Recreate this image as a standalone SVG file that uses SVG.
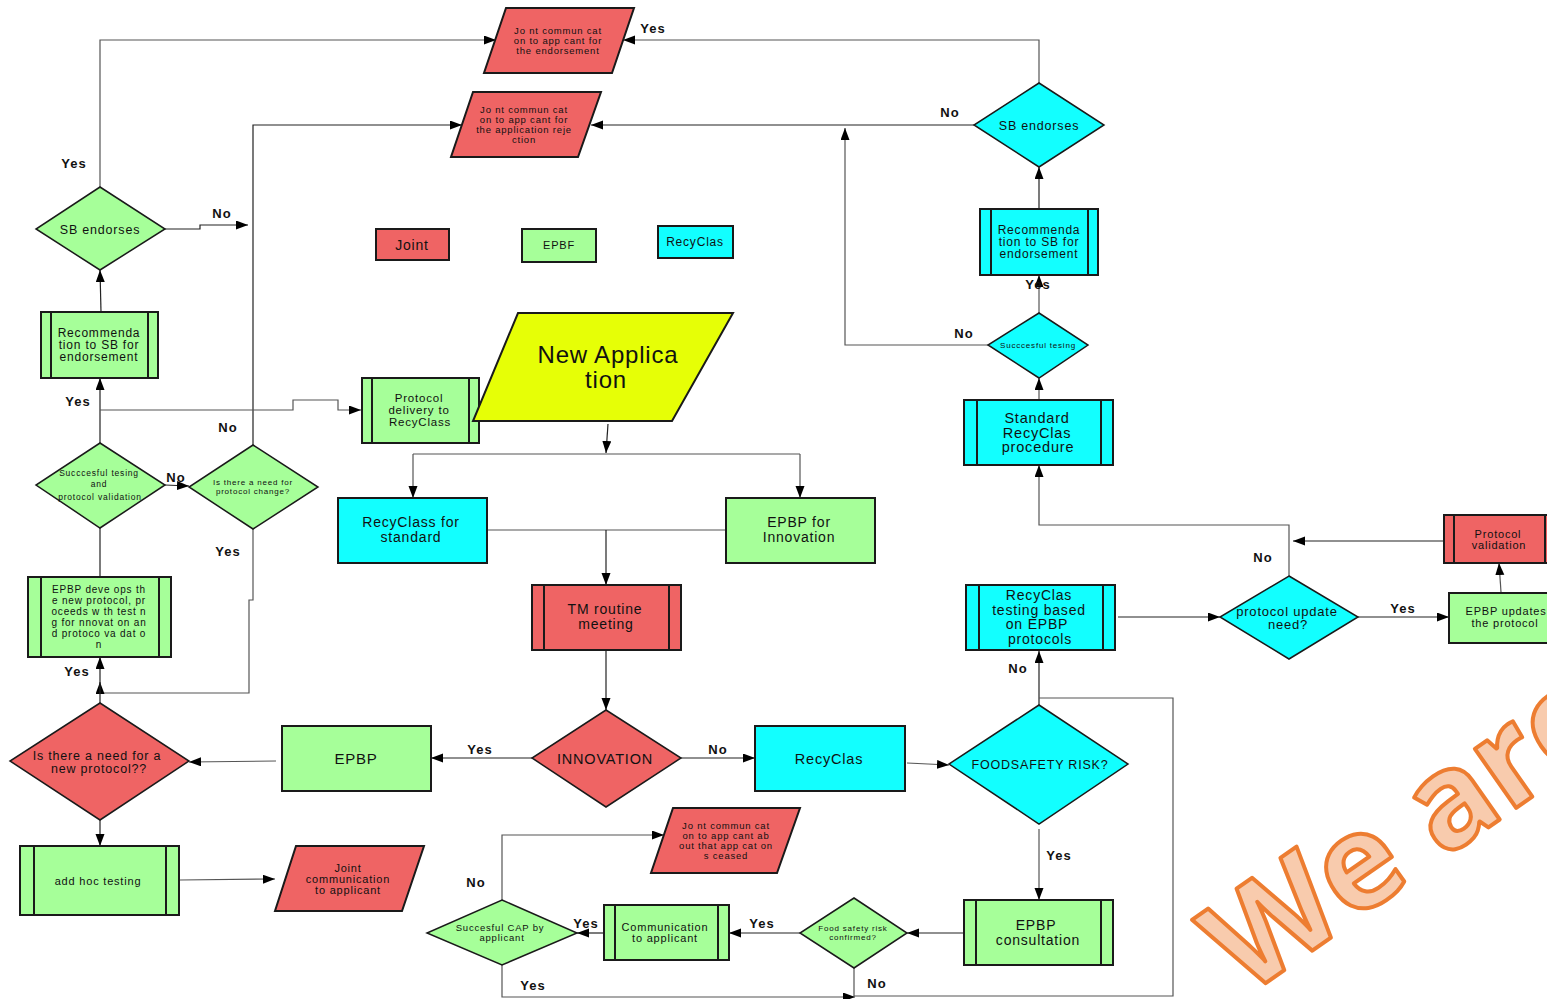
<svg xmlns="http://www.w3.org/2000/svg" width="1547" height="999" viewBox="0 0 1547 999">
<defs>
<style>
.red{fill:#EF6464;stroke:#1a1a1a;stroke-width:2}
.grn{fill:#A6FF99;stroke:#1a1a1a;stroke-width:2}
.cyn{fill:#12FFFF;stroke:#1a1a1a;stroke-width:2}
.yel{fill:#E6FF06;stroke:#1a1a1a;stroke-width:2}
.dia{stroke-width:1.5}
.in{stroke:#1a1a1a;stroke-width:2;fill:none}
.t{font-family:"Liberation Sans",Arial,sans-serif;fill:#111;text-anchor:middle;letter-spacing:0.8px}
.lbl{font-family:"Liberation Sans",Arial,sans-serif;font-weight:bold;font-size:13px;fill:#111;text-anchor:middle;letter-spacing:1px}
.c{fill:none;stroke:#222;stroke-width:1.2}
.cg{fill:none;stroke:#555;stroke-width:1.2}
</style>
<marker id="ar" markerUnits="userSpaceOnUse" markerWidth="13" markerHeight="10" refX="12" refY="4.5" orient="auto">
<path d="M0,0 L12,4.5 L0,9 z" fill="#000"/>
</marker>
</defs>
<rect width="1547" height="999" fill="#fff"/>

<g id="connectors">
<path class="cg" d="M100,187 V40 H496" marker-end="url(#ar)"/>
<path class="c" d="M165,229 H200 V225 H248" marker-end="url(#ar)"/>
<path class="c" d="M253,445 V125 H462" marker-end="url(#ar)"/>
<path class="c" d="M101,312 L100,270" marker-end="url(#ar)"/>
<path class="c" d="M100,443 V378" marker-end="url(#ar)"/>
<path class="cg" d="M100,410 H293 V400 H338 V410 H361" marker-end="url(#ar)"/>
<path class="c" d="M165,485 L189,486" marker-end="url(#ar)"/>
<path class="c" d="M100,528 V577"/>
<path class="cg" d="M253,529 V600 H249 V693 H100 V682" marker-end="url(#ar)"/>
<path class="c" d="M100,703 V657" marker-end="url(#ar)"/>
<path class="c" d="M100,820 V846" marker-end="url(#ar)"/>
<path class="cg" d="M180,880 L275,879" marker-end="url(#ar)"/>
<path class="cg" d="M276,761 L189,762" marker-end="url(#ar)"/>
<path class="c" d="M532,758 H431" marker-end="url(#ar)"/>
<path class="c" d="M681,758 H755" marker-end="url(#ar)"/>
<path class="cg" d="M907,763 L949,765" marker-end="url(#ar)"/>
<path class="cg" d="M1039,829 V900" marker-end="url(#ar)"/>
<path class="c" d="M1039,705 V651" marker-end="url(#ar)"/>
<path class="cg" d="M854,968 V996 H1173 V698 H1039"/>
<path class="cg" d="M502,965 V997 H855" marker-end="url(#ar)"/>
<path class="c" d="M964,933 H907" marker-end="url(#ar)"/>
<path class="c" d="M800,933 H729" marker-end="url(#ar)"/>
<path class="c" d="M604,933 H577" marker-end="url(#ar)"/>
<path class="cg" d="M502,900 V835 H664" marker-end="url(#ar)"/>
<path class="c" d="M1118,617 H1220" marker-end="url(#ar)"/>
<path class="c" d="M1358,617 H1449" marker-end="url(#ar)"/>
<path class="cg" d="M1501,592 L1499,563" marker-end="url(#ar)"/>
<path class="c" d="M1444,541 H1293" marker-end="url(#ar)"/>
<path class="cg" d="M1289,576 V525 H1039 V465" marker-end="url(#ar)"/>
<path class="cg" d="M1039,400 V378" marker-end="url(#ar)"/>
<path class="cg" d="M1039,313 V275" marker-end="url(#ar)"/>
<path class="cg" d="M988,345 H845 V128" marker-end="url(#ar)"/>
<path class="c" d="M1039,209 V167" marker-end="url(#ar)"/>
<path class="c" d="M974,125 H591" marker-end="url(#ar)"/>
<path class="cg" d="M1039,83 V40 H623" marker-end="url(#ar)"/>
<path class="c" d="M608,424 L606,453" marker-end="url(#ar)"/>
<path class="cg" d="M413,454 H800"/>
<path class="cg" d="M413,454 V498" marker-end="url(#ar)"/>
<path class="cg" d="M800,454 V498" marker-end="url(#ar)"/>
<path class="cg" d="M487,530 H726"/>
<path class="c" d="M606,530 V585" marker-end="url(#ar)"/>
<path class="c" d="M606,650 V710" marker-end="url(#ar)"/>
</g>

<g id="labels">
<text class="lbl" x="653" y="33">Yes</text>
<text class="lbl" x="74" y="168">Yes</text>
<text class="lbl" x="222" y="218">No</text>
<text class="lbl" x="950" y="117">No</text>
<text class="lbl" x="964" y="338">No</text>
<text class="lbl" x="1038" y="289">Yes</text>
<text class="lbl" x="228" y="432">No</text>
<text class="lbl" x="78" y="406">Yes</text>
<text class="lbl" x="176" y="482">No</text>
<text class="lbl" x="228" y="556">Yes</text>
<text class="lbl" x="77" y="676">Yes</text>
<text class="lbl" x="480" y="754">Yes</text>
<text class="lbl" x="718" y="754">No</text>
<text class="lbl" x="1018" y="673">No</text>
<text class="lbl" x="1059" y="860">Yes</text>
<text class="lbl" x="1263" y="562">No</text>
<text class="lbl" x="1403" y="613">Yes</text>
<text class="lbl" x="762" y="928">Yes</text>
<text class="lbl" x="586" y="928">Yes</text>
<text class="lbl" x="476" y="887">No</text>
<text class="lbl" x="533" y="990">Yes</text>
<text class="lbl" x="877" y="988">No</text>
</g>

<g id="joint-endorsement">
<polygon class="red" points="506,8 634,8 612,73 484,73"/>
<text class="t" font-size="9.5" x="558" y="34">Jo nt commun cat</text>
<text class="t" font-size="9.5" x="558" y="44">on to app  cant for</text>
<text class="t" font-size="9.5" x="558" y="54">the endorsement</text>
</g>
<g id="joint-rejection">
<polygon class="red" points="473,92 601,92 578,157 451,157"/>
<text class="t" font-size="9.5" x="524" y="113">Jo nt commun cat</text>
<text class="t" font-size="9.5" x="524" y="123">on to app  cant for</text>
<text class="t" font-size="9.5" x="524" y="133">the application reje</text>
<text class="t" font-size="9.5" x="524" y="143">ction</text>
</g>
<g id="sb-endorses-cyan">
<polygon class="cyn dia" points="1039,83 1104,125 1039,167 974,125"/>
<text class="t" font-size="12.5" x="1039" y="130">SB endorses</text>
</g>
<g id="recommendation-cyan">
<rect class="cyn" x="980" y="209" width="118" height="66"/>
<path class="in" d="M991,209 V275 M1088,209 V275"/>
<text class="t" font-size="12" x="1039" y="234">Recommenda</text>
<text class="t" font-size="12" x="1039" y="246">tion to SB for</text>
<text class="t" font-size="12" x="1039" y="258">endorsement</text>
</g>
<g id="successful-tesing-cyan">
<polygon class="cyn dia" points="1039,313 1088,345 1039,378 988,345"/>
<text class="t" font-size="8" letter-spacing="0.3" x="1038" y="348">Succcesful tesing</text>
</g>
<g id="standard-recyclas">
<rect class="cyn" x="964" y="400" width="149" height="65"/>
<path class="in" d="M977,400 V465 M1101,400 V465"/>
<text class="t" font-size="14.5" x="1037" y="423">Standard</text>
<text class="t" font-size="14.5" x="1037" y="438">RecyClas</text>
<text class="t" font-size="14.5" x="1038" y="452">procedure</text>
</g>
<g id="legend-joint">
<rect class="red" x="376" y="229" width="73" height="31"/>
<text class="t" font-size="14" x="412" y="250">Joint</text>
</g>
<g id="legend-epbf">
<rect class="grn" x="522" y="229" width="74" height="33"/>
<text class="t" font-size="11" x="559" y="249">EPBF</text>
</g>
<g id="legend-recyclas">
<rect class="cyn" x="658" y="226" width="75" height="32"/>
<text class="t" font-size="12" x="695" y="246">RecyClas</text>
</g>
<g id="sb-endorses-green">
<polygon class="grn dia" points="100,187 165,229 100,270 36,229"/>
<text class="t" font-size="12.5" x="100" y="234">SB endorses</text>
</g>
<g id="recommendation-green">
<rect class="grn" x="41" y="312" width="117" height="66"/>
<path class="in" d="M51,312 V378 M148,312 V378"/>
<text class="t" font-size="12" x="99" y="337">Recommenda</text>
<text class="t" font-size="12" x="99" y="349">tion to SB for</text>
<text class="t" font-size="12" x="99" y="361">endorsement</text>
</g>
<g id="protocol-delivery">
<rect class="grn" x="362" y="378" width="117" height="65"/>
<path class="in" d="M372,378 V443 M469,378 V443"/>
<text class="t" font-size="11.5" x="419" y="402">Protocol</text>
<text class="t" font-size="11.5" x="419" y="414">delivery to</text>
<text class="t" font-size="11.5" x="420" y="426">RecyClass</text>
</g>
<g id="new-application">
<polygon class="yel" points="518,313 733,313 672,421 473,421"/>
<text class="t" font-size="24" letter-spacing="3" x="608" y="363">New Applica</text>
<text class="t" font-size="24" letter-spacing="3" x="606" y="388">tion</text>
</g>
<g id="successful-testing-validation">
<polygon class="grn dia" points="100,443 165,485 100,528 36,485"/>
<text class="t" font-size="8.5" letter-spacing="0.3" x="99" y="476">Succcesful tesing</text>
<text class="t" font-size="8.5" letter-spacing="0.3" x="99" y="487">and</text>
<text class="t" font-size="8.5" letter-spacing="0.3" x="100" y="500">protocol validation</text>
</g>
<g id="protocol-change">
<polygon class="grn dia" points="253,445 318,487 253,529 189,487"/>
<text class="t" font-size="8" letter-spacing="0.3" x="253" y="485">Is there a need for</text>
<text class="t" font-size="8" letter-spacing="0.3" x="253" y="494">protocol change?</text>
</g>
<g id="recyclass-standard">
<rect class="cyn" x="338" y="498" width="149" height="65"/>
<text class="t" font-size="14" x="411" y="527">RecyClass for</text>
<text class="t" font-size="14" x="411" y="542">standard</text>
</g>
<g id="epbp-innovation">
<rect class="grn" x="726" y="498" width="149" height="65"/>
<text class="t" font-size="14" x="799" y="527">EPBP for</text>
<text class="t" font-size="14" x="799" y="542">Innovation</text>
</g>
<g id="tm-routine">
<rect class="red" x="532" y="585" width="149" height="65"/>
<path class="in" d="M544,585 V650 M669,585 V650"/>
<text class="t" font-size="14" x="605" y="614">TM routine</text>
<text class="t" font-size="14" x="606" y="629">meeting</text>
</g>
<g id="epbp-develops">
<rect class="grn" x="28" y="577" width="143" height="80"/>
<path class="in" d="M41,577 V657 M159,577 V657"/>
<text class="t" font-size="10" x="99" y="593">EPBP deve ops th</text>
<text class="t" font-size="10" x="99" y="604">e new protocol, pr</text>
<text class="t" font-size="10" x="99" y="615">oceeds w th test n</text>
<text class="t" font-size="10" x="99" y="626">g for  nnovat on an</text>
<text class="t" font-size="10" x="99" y="637">d protoco  va  dat o</text>
<text class="t" font-size="10" x="99" y="648">n</text>
</g>
<g id="recyclas-testing">
<rect class="cyn" x="966" y="585" width="149" height="65"/>
<path class="in" d="M979,585 V650 M1103,585 V650"/>
<text class="t" font-size="14" x="1039" y="600">RecyClas</text>
<text class="t" font-size="14" x="1039" y="615">testing based</text>
<text class="t" font-size="14" x="1037" y="629">on EPBP</text>
<text class="t" font-size="14" x="1040" y="644">protocols</text>
</g>
<g id="protocol-update">
<polygon class="cyn dia" points="1289,576 1358,617 1289,659 1220,617"/>
<text class="t" font-size="13" x="1287" y="616">protocol update</text>
<text class="t" font-size="13" x="1288" y="629">need?</text>
</g>
<g id="protocol-validation">
<rect class="red" x="1444" y="515" width="112" height="48"/>
<path class="in" d="M1454,515 V563 M1545,515 V563"/>
<text class="t" font-size="11" x="1498" y="538">Protocol</text>
<text class="t" font-size="11" x="1499" y="549">validation</text>
</g>
<g id="epbp-updates">
<rect class="grn" x="1449" y="593" width="115" height="50"/>
<text class="t" font-size="11" x="1506" y="615">EPBP updates</text>
<text class="t" font-size="11" x="1505" y="627">the protocol</text>
</g>
<g id="new-protocol">
<polygon class="red dia" points="100,703 189,761 100,820 10,761"/>
<text class="t" font-size="12.5" x="97" y="760">Is there a need for a</text>
<text class="t" font-size="12.5" x="99" y="773">new protocol??</text>
</g>
<g id="epbp">
<rect class="grn" x="282" y="726" width="149" height="65"/>
<text class="t" font-size="15" x="356" y="764">EPBP</text>
</g>
<g id="innovation">
<polygon class="red dia" points="606,710 681,758 606,807 532,758"/>
<text class="t" font-size="14.5" x="605" y="764">INNOVATION</text>
</g>
<g id="recyclas">
<rect class="cyn" x="755" y="726" width="150" height="65"/>
<text class="t" font-size="14.5" x="829" y="764">RecyClas</text>
</g>
<g id="foodsafety-risk">
<polygon class="cyn dia" points="1039,705 1128,764 1039,824 949,764"/>
<text class="t" font-size="12.5" x="1040" y="769">FOODSAFETY RISK?</text>
</g>
<g id="add-hoc">
<rect class="grn" x="20" y="846" width="159" height="69"/>
<path class="in" d="M34,846 V915 M166,846 V915"/>
<text class="t" font-size="11" x="98" y="885">add hoc testing</text>
</g>
<g id="joint-applicant">
<polygon class="red" points="296,846 424,846 402,911 275,911"/>
<text class="t" font-size="11" letter-spacing="0.4" x="348" y="872">Joint</text>
<text class="t" font-size="11" letter-spacing="0.4" x="348" y="883">communication</text>
<text class="t" font-size="11" letter-spacing="0.4" x="348" y="894">to applicant</text>
</g>
<g id="joint-ceased">
<polygon class="red" points="673,808 800,808 777,873 651,873"/>
<text class="t" font-size="9.5" x="726" y="829">Jo nt commun cat</text>
<text class="t" font-size="9.5" x="726" y="839">on to app  cant ab</text>
<text class="t" font-size="9.5" x="726" y="849">out that app  cat on</text>
<text class="t" font-size="9.5" x="726" y="859">s ceased</text>
</g>
<g id="epbp-consultation">
<rect class="grn" x="964" y="900" width="149" height="65"/>
<path class="in" d="M976,900 V965 M1101,900 V965"/>
<text class="t" font-size="14" x="1036" y="930">EPBP</text>
<text class="t" font-size="14" x="1038" y="945">consultation</text>
</g>
<g id="food-safety-confirmed">
<polygon class="grn dia" points="854,898 907,933 854,968 800,933"/>
<text class="t" font-size="8" letter-spacing="0.3" x="853" y="931">Food safety risk</text>
<text class="t" font-size="8" letter-spacing="0.3" x="853" y="940">confirmed?</text>
</g>
<g id="communication">
<rect class="grn" x="604" y="905" width="125" height="55"/>
<path class="in" d="M615,905 V960 M718,905 V960"/>
<text class="t" font-size="11" x="665" y="931">Communication</text>
<text class="t" font-size="11" x="665" y="942">to applicant</text>
</g>
<g id="successful-cap">
<polygon class="grn dia" points="502,900 577,933 502,965 427,933"/>
<text class="t" font-size="9.5" letter-spacing="0.4" x="500" y="931">Succesful CAP by</text>
<text class="t" font-size="9.5" letter-spacing="0.4" x="502" y="941">applicant</text>
</g>

<g id="watermark">
<text x="1246" y="997" transform="rotate(-35 1246 997)" font-family="'Open Sans',sans-serif" font-weight="700" font-size="132" fill="#F8CBAD" stroke="#ED7D31" stroke-width="4" stroke-linejoin="round">We are</text>
</g>
</svg>
